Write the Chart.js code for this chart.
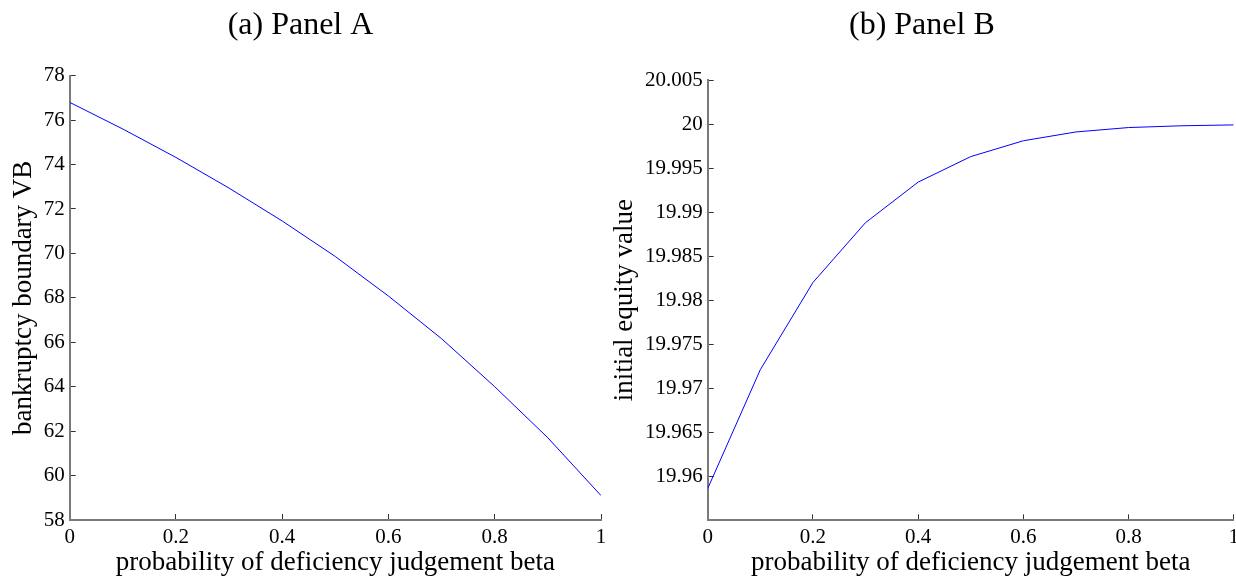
<!DOCTYPE html>
<html>
<head>
<meta charset="utf-8">
<script src="https://cdn.jsdelivr.net/npm/chart.js@4.4.1/dist/chart.umd.min.js"></script>
<style>
  html, body { margin: 0; padding: 0; background: #fff; }
  #wrap { position: relative; width: 1236px; height: 578px; overflow: hidden; }
  canvas { position: absolute; top: 0; }
</style>
</head>
<body>
<div id="wrap">
  <canvas id="panelA" width="618" height="578" style="left:0"></canvas>
  <canvas id="panelB" width="634" height="578" style="left:610px"></canvas>
</div>
<script>
// probability of deficiency judgement
const beta = [0, 0.1, 0.2, 0.3, 0.4, 0.5, 0.6, 0.7, 0.8, 0.9, 1];
// Panel A: bankruptcy boundary VB
const boundaryVB = [76.80, 75.60, 74.32, 72.94, 71.46, 69.86, 68.08, 66.16, 64.00, 61.70, 59.10];
// Panel B: initial equity value
const equityValue = [19.9586, 19.9721, 19.9820, 19.9888, 19.9934, 19.9963, 19.9981, 19.9991, 19.9996, 19.9998, 19.9999];

// tick values
const betaTicks = [0, 0.2, 0.4, 0.6, 0.8, 1];
const vbTicks = [58, 60, 62, 64, 66, 68, 70, 72, 74, 76, 78];
const equityTicks = [19.96, 19.965, 19.97, 19.975, 19.98, 19.985, 19.99, 19.995, 20, 20.005];

const SERIF = "'Liberation Serif', 'Times New Roman', serif";
Chart.defaults.font.family = SERIF;
Chart.defaults.color = '#000';

const fmt = v => String(parseFloat(Number(v).toFixed(4)));

function makePanel(id, o) {
  const axisLine = { color: '#7a7a7a', width: 2 };
  const tickGrid = { drawOnChartArea: false, drawTicks: true, tickLength: -6, tickColor: '#333', tickWidth: 1 };
  return new Chart(document.getElementById(id), {
    type: 'line',
    data: {
      datasets: [{
        data: beta.map((b, i) => ({ x: b, y: o.values[i] })),
        borderColor: '#0000ff',
        borderWidth: 1,
        pointRadius: 0,
        tension: 0,
        fill: false
      }]
    },
    options: {
      responsive: false,
      animation: false,
      devicePixelRatio: 1,
      layout: { padding: { left: 0, right: o.padRight, top: 0, bottom: 0 } },
      plugins: {
        legend: { display: false },
        tooltip: { enabled: false },
        title: {
          display: true,
          text: o.title,
          color: '#000',
          font: { family: SERIF, size: 32, weight: 'normal', lineHeight: 1.2 },
          padding: { top: 6, bottom: o.titlePadBottom }
        }
      },
      scales: {
        x: {
          type: 'linear',
          min: 0,
          max: 1,
          border: axisLine,
          grid: tickGrid,
          ticks: { padding: 11, font: { size: 21 }, color: '#000', maxRotation: 0, callback: v => fmt(v) },
          afterBuildTicks: s => { s.ticks = betaTicks.map(v => ({ value: v })); },
          afterFit: s => { s.height = o.xHeight; s.paddingLeft = 0; s.paddingRight = 0; },
          title: {
            display: true,
            text: 'probability of deficiency judgement beta',
            color: '#000',
            font: { family: SERIF, size: 27, lineHeight: 1 },
            padding: { top: 0, bottom: 1.9 }
          }
        },
        y: {
          type: 'linear',
          min: o.yMin,
          max: o.yMax,
          border: axisLine,
          grid: tickGrid,
          ticks: { padding: 11, font: { size: 21 }, color: '#000', callback: v => fmt(v) },
          afterBuildTicks: s => { s.ticks = o.yTicks.map(v => ({ value: v })); },
          afterFit: s => { s.width = o.yWidth; },
          title: {
            display: true,
            text: o.yTitle,
            color: '#000',
            font: { family: SERIF, size: 27, lineHeight: 1 },
            padding: { top: o.yTitlePad, bottom: 0 }
          }
        }
      }
    }
  });
}

makePanel('panelA', {
  title: '(a) Panel A',
  yTitle: 'bankruptcy boundary VB',
  values: boundaryVB,
  yMin: 58, yMax: 78, yTicks: vbTicks,
  yWidth: 69.7, xHeight: 58, padRight: 17,
  titlePadBottom: 31.3, yTitlePad: 10.7
});

makePanel('panelB', {
  title: '(b) Panel B',
  yTitle: 'initial equity value',
  values: equityValue,
  yMin: 19.955, yMax: 20.005, yTicks: equityTicks,
  yWidth: 97.7, xHeight: 57.7, padRight: 10.3,
  titlePadBottom: 35.6, yTitlePad: 1.5
});
</script>
</body>
</html>
